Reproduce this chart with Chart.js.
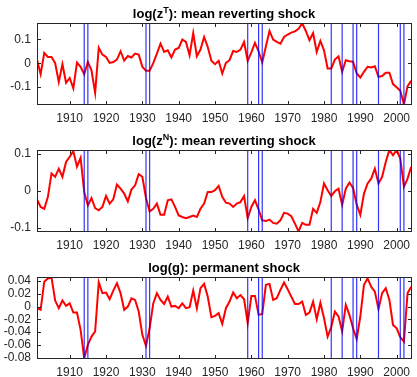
<!DOCTYPE html>
<html>
<head>
<meta charset="utf-8">
<script src="https://cdn.jsdelivr.net/npm/chart.js@4/dist/chart.umd.min.js"></script>
<style>
  html, body { margin: 0; padding: 0; background: #fff; }
  #wrap { position: relative; width: 417px; height: 377px; overflow: hidden; }
  #wrap canvas { position: absolute; left: 0; top: 0; }
</style>
</head>
<body>
<div id="wrap">
  <canvas id="c1" width="417" height="377"></canvas>
  <canvas id="c2" width="417" height="377"></canvas>
  <canvas id="c3" width="417" height="377"></canvas>
</div>
<script>
// ---------- data ----------
const years = [1901,1902,1903,1904,1905,1906,1907,1908,1909,1910,
  1911,1912,1913,1914,1915,1916,1917,1918,1919,1920,
  1921,1922,1923,1924,1925,1926,1927,1928,1929,1930,
  1931,1932,1933,1934,1935,1936,1937,1938,1939,1940,
  1941,1942,1943,1944,1945,1946,1947,1948,1949,1950,
  1951,1952,1953,1954,1955,1956,1957,1958,1959,1960,
  1961,1962,1963,1964,1965,1966,1967,1968,1969,1970,
  1971,1972,1973,1974,1975,1976,1977,1978,1979,1980,
  1981,1982,1983,1984,1985,1986,1987,1988,1989,1990,
  1991,1992,1993,1994,1995,1996,1997,1998,1999,2000,
  2001,2002,2003,2004];

const zT = [0.015,-0.046,0.043,0.026,0.026,0.0,-0.078,-0.004,-0.082,-0.062,
  -0.105,0.003,-0.015,-0.046,0.005,-0.03,-0.124,0.065,0.036,0.026,
  0.001,0.005,0.015,0.05,0.011,0.03,0.024,0.04,0.036,-0.015,
  -0.032,-0.032,0.0,0.04,0.082,0.047,0.054,0.024,0.057,0.064,
  0.099,0.089,0.033,0.126,0.029,0.057,0.11,0.068,0.01,-0.004,
  0.01,-0.043,0.001,0.0125,0.051,0.047,0.057,0.089,0.01,0.045,
  0.085,0.05,0.003,0.07,0.135,0.099,0.089,0.082,0.11,0.12,
  0.128,0.133,0.144,0.167,0.135,0.096,0.126,0.047,0.093,0.054,
  -0.022,-0.022,0.015,0.029,-0.036,0.0125,0.008,0.006,-0.043,-0.06,
  -0.036,-0.015,-0.018,-0.0125,-0.057,-0.054,-0.04,-0.04,-0.0875,-0.101,
  -0.115,-0.172,-0.096,-0.074];

const zN = [-0.0225,-0.043,-0.048,-0.016,0.047,0.038,0.06,0.038,0.078,0.092,
  0.107,0.065,0.089,-0.003,-0.039,-0.019,-0.046,-0.052,-0.043,-0.0135,
  -0.034,-0.0225,0.017,0.006,-0.007,-0.028,0.0036,0.015,0.045,0.038,
  -0.019,-0.055,-0.048,-0.034,-0.064,-0.064,-0.025,-0.0225,-0.043,-0.066,
  -0.07,-0.073,-0.07,-0.066,-0.07,-0.048,-0.034,-0.003,-0.003,0.002,
  0.0135,-0.016,-0.0315,-0.034,-0.043,-0.034,-0.03,-0.014,-0.073,-0.043,
  -0.025,-0.05,-0.079,-0.081,-0.077,-0.086,-0.088,-0.079,-0.059,-0.061,
  -0.068,-0.088,-0.109,-0.086,-0.091,-0.091,-0.048,-0.059,-0.03,0.02,
  0.002,-0.0135,-0.001,0.006,-0.037,0.006,0.0225,0.008,-0.037,-0.064,
  -0.007,0.02,0.033,0.06,0.02,0.038,0.078,0.11,0.096,0.11,
  0.087,0.011,0.033,0.065];

const gVals = [-0.0026,-0.005,0.039,0.044,0.0455,0.0094,-0.0026,0.0094,0.001,0.005,
  -0.0094,-0.0094,-0.0365,-0.081,-0.06,-0.047,-0.039,0.038,0.021,0.022,
  0.0115,0.025,0.0365,0.021,-0.005,0.0,0.013,0.0104,-0.0078,-0.0443,
  -0.0616,-0.034,0.005,0.021,0.0104,0.004,0.0156,0.0,0.001,-0.0026,
  0.005,-0.0026,-0.001,0.025,-0.0026,0.0287,0.0355,0.0156,-0.0167,-0.0146,
  -0.0104,-0.027,-0.0026,0.0078,0.022,0.013,0.018,0.0115,-0.026,0.0167,
  0.0167,-0.013,-0.0115,0.034,0.0355,0.0104,0.013,0.026,0.0376,0.027,
  0.0156,0.004,0.004,0.0078,-0.013,-0.0094,0.0078,-0.0198,0.006,-0.018,
  -0.047,-0.032,-0.0078,-0.0156,-0.039,0.0026,-0.013,-0.034,-0.051,-0.0156,
  0.034,0.044,0.031,0.0235,-0.004,0.021,0.0287,0.0104,-0.0287,-0.034,
  -0.048,-0.055,0.021,0.031];

const xTicks = [1910,1920,1930,1940,1950,1960,1970,1980,1990,2000];
const yTicksT = [-0.1,0,0.1];
const yTicksN = [-0.1,0,0.1];
const yTicksG = [-0.08,-0.06,-0.04,-0.02,0,0.02,0.04];
const markerYears = [1914,1915,1931,1932,1959,1962,1963,1982,1985,1988,1989,1995,2001,2002];

const titleT = ['log(z', 'T', '): mean reverting shock'];
const titleN = ['log(z', 'N', '): mean reverting shock'];
const titleG = ['log(g): permanent shock'];

// ---------- drawing ----------
const FONT = '"Liberation Sans", Arial, Helvetica, sans-serif';
const TXT = '#262626';

const matlabPlugin = {
  id: 'matlab',
  afterDatasetsDraw(chart, args, o) {
    const ctx = chart.ctx, a = chart.chartArea, xs = chart.scales.x, ys = chart.scales.y;
    ctx.save();
    // event lines
    ctx.strokeStyle = 'rgba(0,0,255,0.8)';
    ctx.lineWidth = 1.2;
    o.lines.forEach(v => {
      const px = xs.getPixelForValue(v);
      ctx.beginPath(); ctx.moveTo(px, a.top); ctx.lineTo(px, a.bottom); ctx.stroke();
    });
    // box
    const L = Math.floor(a.left) + 0.5, R = Math.min(Math.floor(a.right), 416) + 0.5;
    const T = Math.floor(a.top) + 0.5, B = Math.floor(a.bottom) + 0.5;
    ctx.strokeStyle = TXT; ctx.lineWidth = 1;
    ctx.strokeRect(L, T, R - L, B - T);
    // inward ticks
    ctx.beginPath();
    xs.ticks.forEach(t => {
      const px = Math.round(xs.getPixelForValue(t.value)) + 0.5;
      ctx.moveTo(px, B); ctx.lineTo(px, B - 3.5);
      ctx.moveTo(px, T); ctx.lineTo(px, T + 3.5);
    });
    ys.ticks.forEach(t => {
      const py = Math.round(ys.getPixelForValue(t.value)) + 0.5;
      ctx.moveTo(L, py); ctx.lineTo(L + 3.5, py);
      ctx.moveTo(R, py); ctx.lineTo(R - 3.5, py);
    });
    ctx.stroke();
    // title (with superscript)
    const parts = o.title;
    const big = 'bold 13px ' + FONT, small = 'bold 9px ' + FONT;
    let w = 0;
    parts.forEach((p, i) => { ctx.font = (i === 1) ? small : big; w += ctx.measureText(p).width; });
    let x = (a.left + a.right) / 2 - w / 2;
    ctx.fillStyle = '#000';
    ctx.textBaseline = 'alphabetic';
    ctx.textAlign = 'left';
    parts.forEach((p, i) => {
      ctx.font = (i === 1) ? small : big;
      ctx.fillText(p, x, (i === 1) ? o.titleY - 4.5 : o.titleY);
      x += ctx.measureText(p).width;
    });
    ctx.restore();
  }
};

function makePanel(id, vals, yTicks, ymin, ymax, top, bottom, title, titleY) {
  const H = 377;
  new Chart(document.getElementById(id), {
    type: 'line',
    data: {
      datasets: [{
        data: years.map((yr, i) => ({ x: yr, y: vals[i] })),
        borderColor: '#ff0000',
        borderWidth: 2,
        pointRadius: 0,
        tension: 0,
        fill: false
      }]
    },
    options: {
      responsive: false,
      animation: false,
      devicePixelRatio: 1,
      layout: { padding: { top: top, left: 0, right: 0, bottom: 0 } },
      plugins: {
        legend: { display: false },
        tooltip: { enabled: false },
        matlab: { lines: markerYears, title: title, titleY: titleY }
      },
      scales: {
        x: {
          type: 'linear', min: 1901, max: 2004,
          grid: { display: false, drawTicks: false },
          border: { display: false },
          afterBuildTicks: s => { s.ticks = xTicks.map(v => ({ value: v })); },
          afterFit: s => { s.height = H - bottom; },
          ticks: {
            autoSkip: false, maxRotation: 0, padding: 7,
            color: TXT, font: { family: FONT, size: 12 },
            callback: v => String(v)
          }
        },
        y: {
          type: 'linear', min: ymin, max: ymax,
          grid: { display: false, drawTicks: false },
          border: { display: false },
          afterBuildTicks: s => { s.ticks = yTicks.map(v => ({ value: v })); },
          afterFit: s => { s.width = 37; },
          ticks: {
            autoSkip: false, padding: 6,
            color: TXT, font: { family: FONT, size: 12 },
            callback: v => String(v)
          }
        }
      }
    },
    plugins: [matlabPlugin]
  });
}

makePanel('c1', zT, yTicksT, -0.172, 0.167, 23.3, 104.3, titleT, 17.6);
makePanel('c2', zN, yTicksN, -0.109, 0.11, 150, 231.5, titleN, 144.8);
makePanel('c3', gVals, yTicksG, -0.081, 0.0455, 277.5, 358.3, titleG, 271.7);
</script>
</body>
</html>
